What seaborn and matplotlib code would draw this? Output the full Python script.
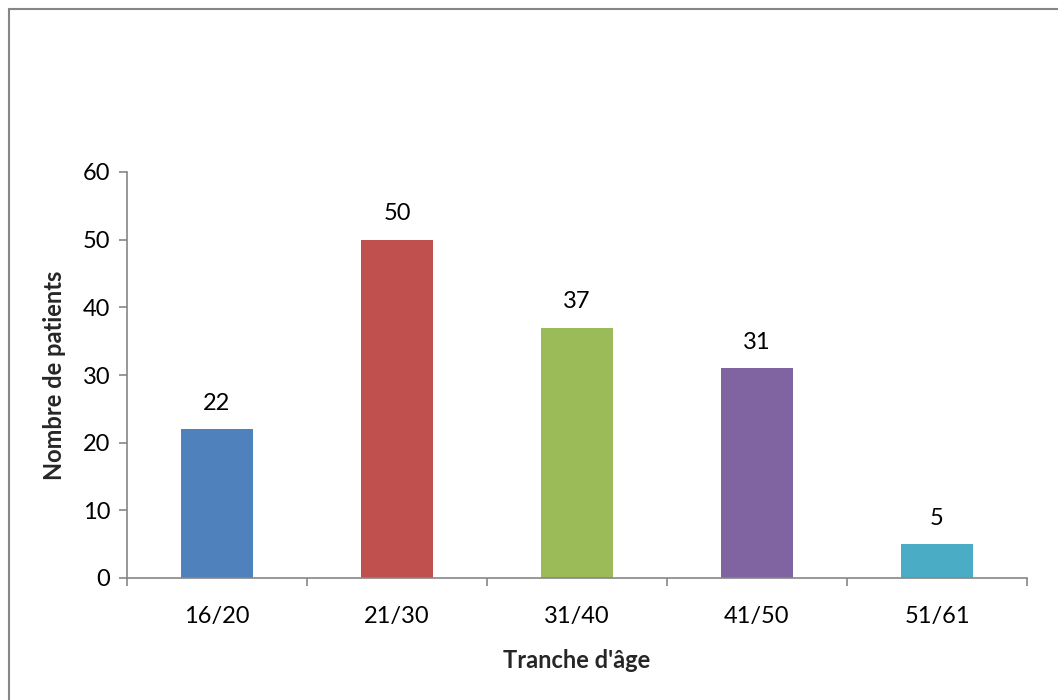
import matplotlib
matplotlib.use("Agg")
import matplotlib.pyplot as plt
from matplotlib.lines import Line2D
from matplotlib.ticker import FixedLocator
import seaborn as sns
import pandas as pd

# Age groups and patient counts
categories = ["16/20", "21/30", "31/40", "41/50", "51/61"]
patients = [22, 50, 37, 31, 5]
colors = ["#4F81BD", "#C0504D", "#9BBB59", "#8064A2", "#4BACC6"]

sns.set_theme(style="white")
plt.rcParams["font.family"] = ["Lato", "DejaVu Sans"]

df = pd.DataFrame({"age": categories, "n": patients})

W, H = 1058, 700
fig = plt.figure(figsize=(W / 100, H / 100), dpi=100)
ax = fig.add_axes([127 / W, 1 - 578 / H, (1027 - 127) / W, (578 - 172) / H])

sns.barplot(data=df, x="age", y="n", hue="age", palette=colors,
            width=0.4, saturation=1, legend=False, linewidth=0, ax=ax)

ax.set_xlim(-0.5, len(categories) - 0.5)
ax.set_ylim(0, 60)
ax.set_yticks(range(0, 61, 10))

gray = "#868686"
for side in ("top", "right"):
    ax.spines[side].set_visible(False)
for side in ("left", "bottom"):
    ax.spines[side].set_color(gray)
    ax.spines[side].set_linewidth(1.2)

ax.tick_params(axis="y", which="major", direction="out", length=6, width=1.2,
               color=gray, left=True, labelsize=17, pad=6, labelcolor="black")
ax.tick_params(axis="x", which="major", length=0, labelsize=17, pad=20,
               labelcolor="black")
ax.xaxis.set_minor_locator(FixedLocator([i - 0.5 for i in range(len(categories) + 1)]))
ax.tick_params(axis="x", which="minor", direction="out", length=6, width=1.2,
               color=gray, bottom=True)

for i, v in enumerate(patients):
    ax.annotate(str(v), (i, v), xytext=(0, 11), textcoords="offset points",
                ha="center", va="bottom", fontsize=17, color="black")

ax.set_xlabel("Tranche d'âge", fontsize=17, fontweight="bold", labelpad=16)
ax.set_ylabel("Nombre de patients", fontsize=17, fontweight="bold", labelpad=12)

# Outer frame (left and top edges visible)
fig.add_artist(Line2D([8.5 / W, 8.5 / W], [0, 1 - 8.5 / H], transform=fig.transFigure,
                      color=gray, lw=1.5))
fig.add_artist(Line2D([8.5 / W, 1], [1 - 8.5 / H, 1 - 8.5 / H], transform=fig.transFigure,
                      color=gray, lw=1.5))

fig.savefig("out.png", dpi=100)
